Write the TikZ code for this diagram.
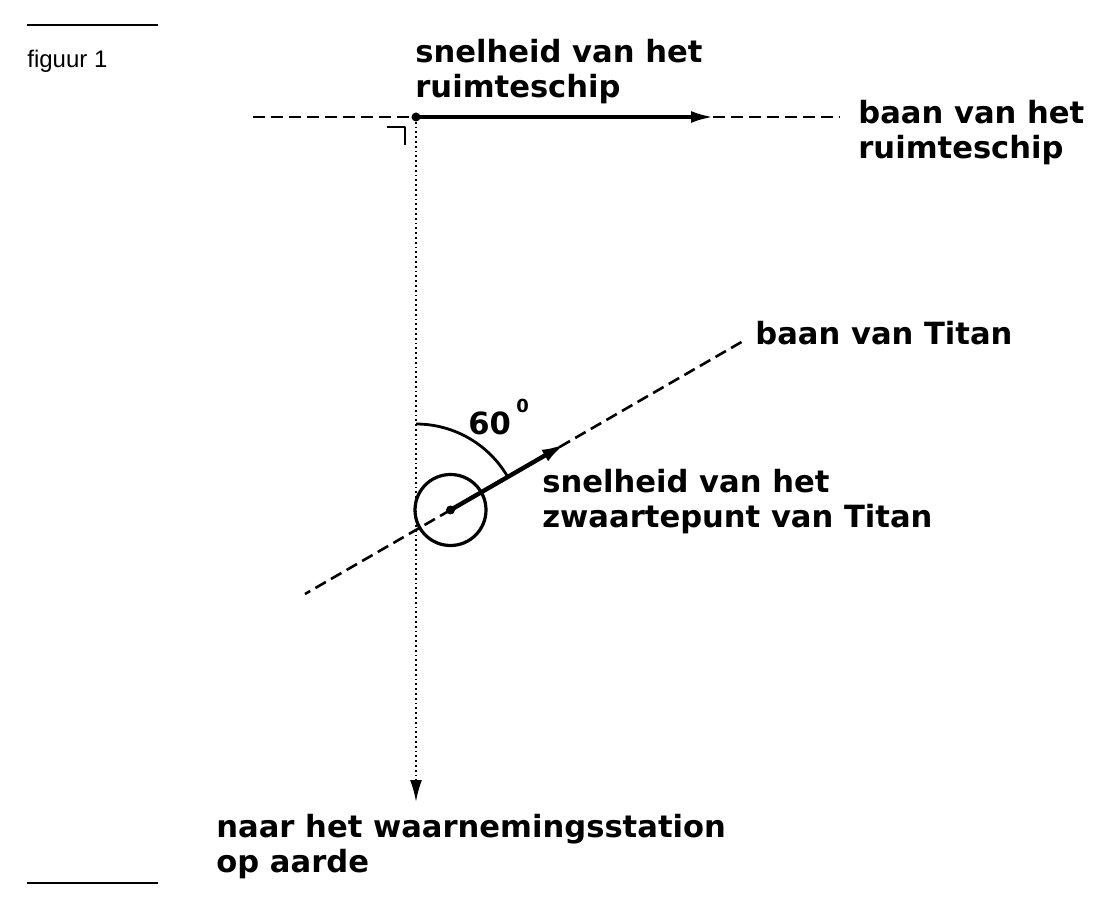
\documentclass[tikz,border=0pt]{standalone}
\usepackage{fontspec}
\setmainfont{DejaVu Sans}
\newfontfamily\figfont{Liberation Sans}
\usetikzlibrary{arrows.meta}
\tikzset{
  lbl/.style={anchor=base west,inner sep=0pt,align=left,font=\fontsize{15.3}{17.5}\selectfont\bfseries},
  baan/.style={line width=1.3pt,dash pattern=on 6pt off 3pt},
  kijk/.style={line width=1.2pt,dash pattern=on 0.9pt off 1.5pt},
}
\begin{document}
\begin{tikzpicture}[line join=round,>={Latex[length=11pt,width=6pt]},x=0.5pt,y=0.5pt]
\useasboundingbox (0,0) rectangle (1094,-909);
\draw[line width=1pt] (27,-25) -- (158,-25);
\draw[line width=1pt] (27,-883) -- (158,-883);
\node[anchor=base west,inner sep=0pt,font=\figfont\fontsize{12}{14}\selectfont] (fig) at (27,-68) {figuur 1};
% ruimteschip
\coordinate (ship) at (416,-117);
\coordinate (shipL) at (253,-117);
\coordinate (shipV) at (713,-117);
\coordinate (shipR) at (840,-117);
\coordinate (earth) at (416,-802);
\draw[baan] (shipL) -- (ship);
\draw[baan] (shipV) -- (shipR);
\draw[line width=1.6pt,->] (ship) -- (shipV);
\draw[kijk] (ship) -- ([yshift=10pt]earth);
\draw[line width=1.1pt,->] ([yshift=11pt]earth) -- (earth);
\draw[line width=1.3pt] (387,-127) -- (405,-127) -- (405,-145);
\fill (ship) circle (4.5);
% Titan
\coordinate (titan) at (450.5,-510);
\coordinate (hoek) at (416,-530);
\draw[baan] (titan) -- ++(210:168) coordinate (titanL);
\draw[baan] (titan) -- ++(30:340) coordinate (titanR);
\draw[line width=1.6pt] (titan) circle (35.5);
\draw[line width=2.2pt,->,>={Latex[length=12pt,width=6.5pt]}] (titan) -- ++(30:133) coordinate (titanV);
\draw[line width=1.4pt] ([shift={(90:106)}]hoek) arc (90:30:106);
\fill (titan) circle (4.5);
% teksten
\node[lbl] (vship) at (415,-98) {snelheid van het\\ruimteschip};
\node[lbl] (bship) at (858,-159) {baan van het\\ruimteschip};
\node[lbl] (btitan) at (755,-345) {baan van Titan};
\node[lbl] (vtitan) at (542,-528) {snelheid van het\\zwaartepunt van Titan};
\node[lbl] (naar) at (216,-872) {naar het waarnemingsstation\\op aarde};
\node[lbl] (zestig) at (468,-435) {60};
\node[anchor=base west,inner sep=0pt,font=\fontsize{9}{10}\selectfont\bfseries] (graad) at (516,-413) {0};
\end{tikzpicture}
\end{document}
